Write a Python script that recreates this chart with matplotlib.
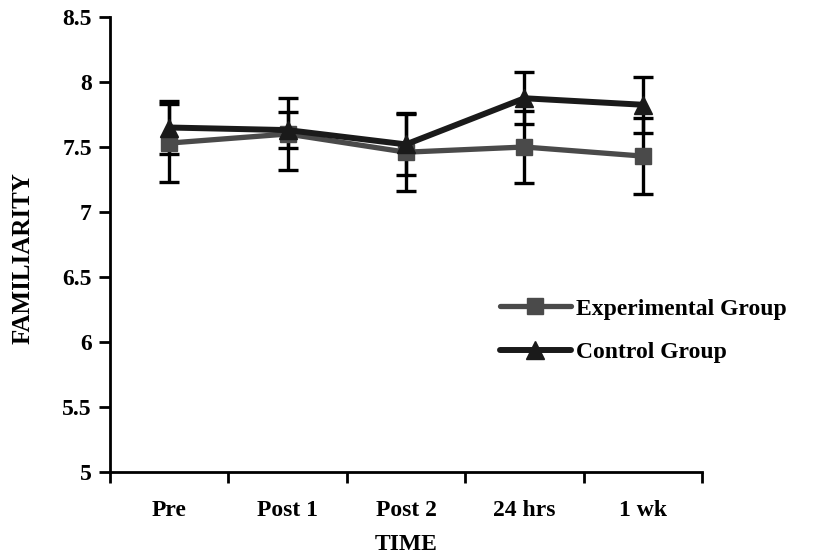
import matplotlib
matplotlib.use("Agg")
import matplotlib.pyplot as plt

categories = ["Pre", "Post 1", "Post 2", "24 hrs", "1 wk"]
exp_mean = [7.53, 7.60, 7.46, 7.50, 7.43]
exp_err = [0.30, 0.28, 0.30, 0.28, 0.29]
ctrl_mean = [7.65, 7.63, 7.52, 7.875, 7.825]
ctrl_err = [0.20, 0.14, 0.235, 0.20, 0.215]
yticks = [5, 5.5, 6, 6.5, 7, 7.5, 8, 8.5]
ytick_labels = ["5", "5.5", "6", "6.5", "7", "7.5", "8", "8.5"]

plt.rcParams['font.family'] = ['Liberation Serif', 'DejaVu Serif']
plt.rcParams['font.weight'] = 'bold'

fig = plt.figure(figsize=(8.18, 5.58), dpi=100)
ax = fig.add_axes([110/818, 1-472/558, (702-110)/818, (472-17)/558])

x = list(range(len(categories)))
exp_color = "#4a4a4a"
ctrl_color = "#1a1a1a"

ax.errorbar(x, exp_mean, yerr=exp_err, fmt='none', ecolor='black',
            elinewidth=2.4, capsize=7, capthick=2.4, zorder=2)
ax.errorbar(x, ctrl_mean, yerr=ctrl_err, fmt='none', ecolor='black',
            elinewidth=2.4, capsize=7, capthick=2.4, zorder=2)
ax.plot(x, exp_mean, color=exp_color, lw=3.8, marker='s', ms=12,
        mfc=exp_color, mec=exp_color, zorder=3, label="Experimental Group",
        solid_capstyle='round')
ax.plot(x, ctrl_mean, color=ctrl_color, lw=4.3, marker='^', ms=13,
        mfc=ctrl_color, mec=ctrl_color, zorder=4, label="Control Group",
        solid_capstyle='round')

ax.set_xlim(-0.5, 4.5)
ax.set_ylim(5, 8.5)
ax.set_yticks(yticks)
ax.set_yticklabels(ytick_labels, fontsize=17, fontweight='bold')
ax.set_xticks([i - 0.5 for i in range(len(categories) + 1)])
ax.set_xticklabels([])
ax.set_xticks(x, minor=True)
ax.set_xticklabels(categories, minor=True, fontsize=17, fontweight='bold')
ax.tick_params(axis='x', which='minor', length=0, pad=20)
ax.tick_params(axis='x', which='major', length=8, width=2, direction='out')
ax.tick_params(axis='y', length=8, width=2, direction='out', pad=5)

for s in ['top', 'right']:
    ax.spines[s].set_visible(False)
for s in ['left', 'bottom']:
    ax.spines[s].set_linewidth(2)

fig.text(23/818, 1-258/558, "FAMILIARITY", rotation=90, ha='center', va='center',
         fontsize=18, fontweight='bold')
fig.text(406/818, 1-545/558, "TIME", ha='center', va='center',
         fontsize=17, fontweight='bold')

leg = ax.legend(loc='upper left', bbox_to_anchor=(500/818, 1-298/558),
                bbox_transform=fig.transFigure, frameon=False,
                prop={'family': 'Liberation Serif', 'weight': 'bold', 'size': 17},
                handlelength=3.0, handletextpad=0.2, labelspacing=0.95,
                borderpad=0, borderaxespad=0)

fig.savefig("out.png", dpi=100)
